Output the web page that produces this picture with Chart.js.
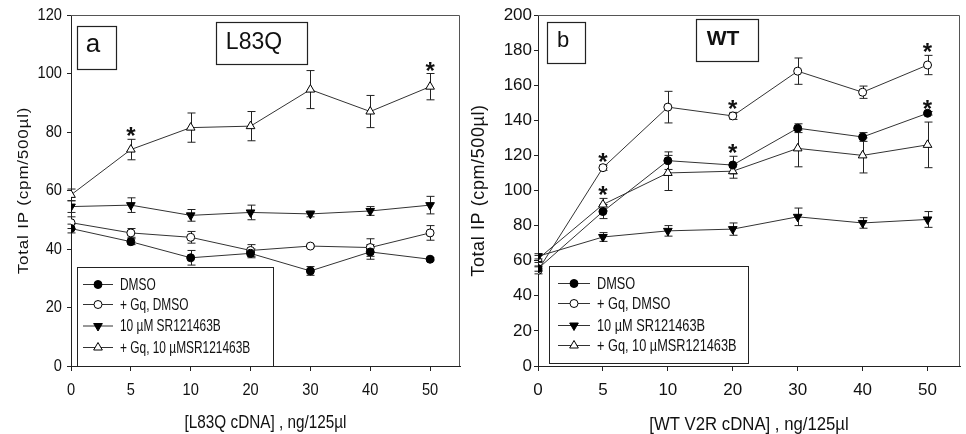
<!DOCTYPE html>
<html><head><meta charset="utf-8">
<script src="https://cdn.jsdelivr.net/npm/chart.js@4/dist/chart.umd.min.js"></script>
<style>
html,body{margin:0;padding:0;background:#fff;}
body{width:966px;height:434px;overflow:hidden;position:relative;}
#ca{position:absolute;left:0;top:0;}
#cb{position:absolute;left:466px;top:0;}
</style></head><body>
<canvas id="ca" width="466" height="434"></canvas>
<canvas id="cb" width="500" height="434"></canvas>
<script>
// ---------- data ----------
const xLabels = ['0','5','10','20','30','40','50'];
const seriesNames = ['DMSO','+ Gq, DMSO','10 \u00b5M SR121463B','+ Gq, 10 \u00b5MSR121463B'];

// panel a : L83Q
const aDMSO      = [47, 42.5, 37, 38.5, 32.5, 39, 36.5];
const aDMSOErr   = [1.5, 1, 2.5, 1.5, 1.5, 2.5, 0.5];
const aGqDMSO    = [49, 45.5, 44, 39.5, 41, 40.5, 45.5];
const aGqDMSOErr = [2, 1.5, 2, 2, 0.5, 3, 2.5];
const aSR        = [54.5, 55, 51.5, 52.5, 52, 53, 55];
const aSRErr     = [2, 2.5, 2, 2.5, 1, 1.5, 3];
const aGqSR      = [58.5, 74, 81.5, 82, 94.5, 87, 95.5];
const aGqSRErr   = [2, 3.5, 5, 5, 6.5, 5.5, 4.5];
const aStars     = [[3,1],[3,6]];          // [series, point]

// panel b : WT
const bDMSO      = [55.5, 88, 117, 114.5, 135.5, 130.5, 144];
const bDMSOErr   = [1.5, 4, 5, 5, 2.5, 2.5, 1];
const bGqDMSO    = [54.5, 113, 147.5, 142.5, 168, 156, 171.5];
const bGqDMSOErr = [2, 1.5, 9, 2, 7.5, 3.5, 5.5];
const bSR        = [62.5, 73.5, 77, 78, 85, 81.5, 83.5];
const bSRErr     = [1.5, 2.5, 3, 3.5, 5, 3, 4.5];
const bGqSR      = [61, 92, 110, 111, 124, 120, 126];
const bGqSRErr   = [2, 3.5, 10, 4, 10.5, 10, 13];
const bStars     = [[1,1],[3,1],[1,3],[0,3],[1,6],[0,6]];

const yTitle = 'Total IP (cpm/500\u00b5l)';
const aXTitle = '[L83Q cDNA] , ng/125\u00b5l';
const bXTitle = '[WT V2R cDNA] , ng/125\u00b5l';

// ---------- helpers ----------
const FONT = '"Liberation Sans", Arial, sans-serif';
const styles = [
  {ps:'circle',   bg:'#000', rot:0,   r:4},
  {ps:'circle',   bg:'#fff', rot:0,   r:4},
  {ps:'triangle', bg:'#000', rot:180, r:5},
  {ps:'triangle', bg:'#fff', rot:0,   r:5}
];
function buildDatasets(vals, errs){
  return vals.map((v,i)=>({
    label: seriesNames[i],
    data: v.map((y,j)=>({x:j, y:y})),
    errors: errs[i],
    borderColor:'#333', borderWidth:1, tension:0, fill:false,
    pointStyle: styles[i].ps, pointRotation: styles[i].rot, pointRadius: styles[i].r,
    pointBackgroundColor: styles[i].bg, pointBorderColor:'#000', pointBorderWidth:1
  }));
}
function ctext(ctx, str, x, y, size, sx, align, weight){
  ctx.save();
  ctx.font = (weight||'normal') + ' ' + size + 'px ' + FONT;
  ctx.fillStyle = '#111';
  ctx.translate(x, y); ctx.scale(sx, 1);
  ctx.textAlign = align; ctx.textBaseline = 'middle';
  ctx.fillText(str, 0, 0);
  ctx.restore();
}

const panelPlugin = {
  id: 'panel',
  beforeDatasetsDraw(chart, args, o){
    const ctx = chart.ctx, xs = chart.scales.x, ys = chart.scales.y;
    ctx.save(); ctx.strokeStyle = '#222'; ctx.lineWidth = 1;
    chart.data.datasets.forEach(ds=>{
      ds.data.forEach((p,j)=>{
        const e = ds.errors[j]; if(!e) return;
        const x = Math.round(xs.getPixelForValue(p.x)) + 0.5;
        const y1 = ys.getPixelForValue(p.y + e), y2 = ys.getPixelForValue(p.y - e);
        ctx.beginPath();
        ctx.moveTo(x, y1); ctx.lineTo(x, y2);
        ctx.moveTo(x-4, y1); ctx.lineTo(x+4, y1);
        ctx.moveTo(x-4, y2); ctx.lineTo(x+4, y2);
        ctx.stroke();
      });
    });
    ctx.restore();
  },
  afterDatasetsDraw(chart, args, o){
    const ctx = chart.ctx, xs = chart.scales.x, ys = chart.scales.y;
    ctx.save();
    ctx.fillStyle = '#111';
    ctx.font = 'bold 24px ' + FONT;
    ctx.textAlign = 'center'; ctx.textBaseline = 'alphabetic';
    o.stars.forEach(([si, pi])=>{
      const ds = chart.data.datasets[si], p = ds.data[pi];
      const x = xs.getPixelForValue(p.x);
      const yt = ys.getPixelForValue(p.y + ds.errors[pi]);
      ctx.fillText('*', x, yt + 5);
    });
    ctx.restore();
  },
  afterDraw(chart, args, o){
    const ctx = chart.ctx, ca = chart.chartArea, xs = chart.scales.x, ys = chart.scales.y;
    // frame (top & right)
    ctx.save();
    ctx.strokeStyle = '#555'; ctx.lineWidth = 1;
    ctx.beginPath();
    ctx.moveTo(ca.left, ca.top + 0.5); ctx.lineTo(ca.right - 0.5, ca.top + 0.5); ctx.lineTo(ca.right - 0.5, ca.bottom);
    ctx.stroke();
    ctx.restore();
    // tick labels
    ys.ticks.forEach((t,i)=>{
      ctext(ctx, String(t.value), ca.left - o.yLabGap, ys.getPixelForTick(i), o.tickSize, o.tickSx, 'right');
    });
    xs.ticks.forEach((t,i)=>{
      const lab = xLabels[t.value]; if(lab === undefined) return;
      ctext(ctx, lab, xs.getPixelForTick(i), ca.bottom + o.xLabGap, o.tickSize, o.tickSx, 'center');
    });
    // axis titles
    ctx.save();
    ctx.fillStyle = '#111';
    ctx.font = o.yTitleSize + 'px ' + FONT;
    ctx.translate(o.yTitleX, (ca.top + ca.bottom)/2);
    ctx.rotate(-Math.PI/2);
    ctx.scale(1, o.yTitleSy);
    ctx.letterSpacing = o.yTitleLs + 'px';
    ctx.textAlign = 'center'; ctx.textBaseline = 'middle';
    ctx.fillText(yTitle, 0, 0);
    ctx.restore();
    ctext(ctx, o.xTitle, (ca.left + ca.right)/2, o.xTitleY, o.xTitleSize, o.xTitleSx, 'center');
    // label boxes
    o.boxes.forEach(b=>{
      ctx.save();
      ctx.fillStyle = '#fff'; ctx.fillRect(b.x, b.y, b.w, b.h);
      ctx.strokeStyle = '#222'; ctx.lineWidth = 1.2;
      ctx.strokeRect(b.x + 0.5, b.y + 0.5, b.w, b.h);
      ctx.restore();
      ctext(ctx, b.text, b.tx, b.ty, b.size, 1, 'center', b.weight);
    });
    // legend
    const L = o.legend;
    ctx.save();
    ctx.fillStyle = '#fff'; ctx.fillRect(L.x, L.y, L.w, L.h);
    ctx.strokeStyle = '#222'; ctx.lineWidth = 1;
    ctx.strokeRect(L.x + 0.5, L.y + 0.5, L.w, L.h);
    chart.data.datasets.forEach((ds, i)=>{
      const y = L.rows[i];
      ctx.strokeStyle = '#333'; ctx.lineWidth = 1;
      ctx.beginPath(); ctx.moveTo(L.lx1, y + 0.5); ctx.lineTo(L.lx2, y + 0.5); ctx.stroke();
      ctx.fillStyle = ds.pointBackgroundColor; ctx.strokeStyle = '#000'; ctx.lineWidth = 1;
      Chart.helpers.drawPoint(ctx, {pointStyle: ds.pointStyle, rotation: ds.pointRotation, radius: ds.pointRadius, borderWidth: 1}, (L.lx1 + L.lx2)/2, y + 0.5);
      ctext(ctx, ds.label, L.tx, y + 1, L.size, L.sx, 'left');
    });
    ctx.restore();
  }
};

function makeChart(id, vals, errs, ymax, pad, yWidth, extra){
  return new Chart(document.getElementById(id), {
    type: 'line',
    data: { datasets: buildDatasets(vals, errs) },
    plugins: [panelPlugin],
    options: {
      responsive: false, animation: false, events: [],
      layout: { padding: pad },
      plugins: { legend: {display:false}, tooltip: {enabled:false}, title: {display:false}, panel: extra },
      scales: {
        x: {
          type: 'linear', min: 0, max: 6.5,
          afterFit(s){ s.height = 68; },
          ticks: { display: false, stepSize: 1, includeBounds: false, autoSkip: false },
          grid: { display: true, drawOnChartArea: false, drawTicks: true, tickLength: 5, color: '#222' },
          border: { display: true, color: '#222', width: 1 }
        },
        y: {
          min: 0, max: ymax,
          afterFit(s){ s.width = yWidth; },
          ticks: { display: false, stepSize: 20 },
          grid: { display: true, drawOnChartArea: false, drawTicks: true, tickLength: 4, color: '#222' },
          border: { display: true, color: '#222', width: 1 }
        }
      }
    }
  });
}

makeChart('ca',
  [aDMSO, aGqDMSO, aSR, aGqSR], [aDMSOErr, aGqDMSOErr, aSRErr, aGqSRErr], 120,
  {left:0, right:4, top:15, bottom:0}, 71,
  { stars: aStars, tickSize: 17, tickSx: 0.86, yLabGap: 9, xLabGap: 24,
    yTitleX: 24, yTitleSize: 17, yTitleSy: 0.86, yTitleLs: 0.8,
    xTitle: aXTitle, xTitleY: 423, xTitleSize: 18, xTitleSx: 0.85,
    boxes: [
      {x:77, y:26, w:39, h:43, text:'a', tx:93, ty:45, size:26},
      {x:216, y:22, w:91, h:42, text:'L83Q', tx:254, ty:43, size:23}
    ],
    legend: { x:77, y:267, w:196, h:99, rows:[284, 304, 325.5, 347], lx1:83, lx2:113, tx:120, size:17, sx:0.7 }
  });

makeChart('cb',
  [bDMSO, bGqDMSO, bSR, bGqSR], [bDMSOErr, bGqDMSOErr, bSRErr, bGqSRErr], 200,
  {left:0, right:1, top:15, bottom:0}, 72,
  { stars: bStars, tickSize: 17, tickSx: 1, yLabGap: 6, xLabGap: 24,
    yTitleX: 13, yTitleSize: 18, yTitleSy: 1, yTitleLs: 0.6,
    xTitle: bXTitle, xTitleY: 425, xTitleSize: 18, xTitleSx: 0.93,
    boxes: [
      {x:81, y:22, w:38, h:41, text:'b', tx:97, ty:41, size:22},
      {x:230, y:19, w:62, h:42, text:'WT', tx:257, ty:39, size:21, weight:'bold'}
    ],
    legend: { x:83, y:266, w:199, h:97, rows:[283, 303, 325, 345], lx1:92, lx2:124, tx:131, size:17, sx:0.75 }
  });
</script>
</body></html>
